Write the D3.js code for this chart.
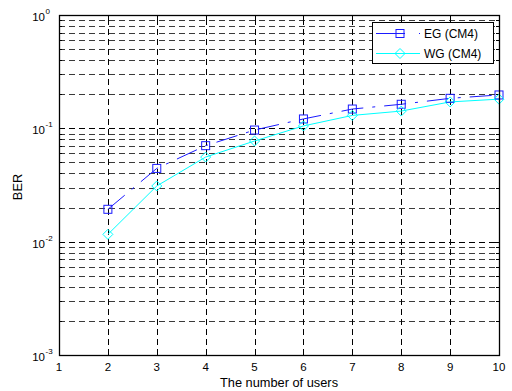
<!DOCTYPE html>
<html>
<head>
<meta charset="utf-8">
<script src="https://cdn.jsdelivr.net/npm/d3@7/dist/d3.min.js"></script>
<style>
  html, body { margin: 0; padding: 0; background: #fff; }
  svg { display: block; font-family: "Liberation Sans", Arial, sans-serif; }
</style>
</head>
<body>
<svg id="chart" width="512" height="391"></svg>
<script>
// Number of users on the x axis
const users = [2, 3, 4, 5, 6, 7, 8, 9, 10];
// Bit error rate for each grouping scheme
const berEG = [0.0193, 0.0443, 0.0703, 0.0966, 0.121, 0.148, 0.163, 0.184, 0.197];
const berWG = [0.0116, 0.031, 0.0558, 0.0773, 0.105, 0.130, 0.142, 0.171, 0.181];
const seriesNames = ["EG (CM4)", "WG (CM4)"];
const xTicks = [1, 2, 3, 4, 5, 6, 7, 8, 9, 10];
const yDecades = [-3, -2, -1, 0];

const svg = d3.select("#chart");
const plotL = 59, plotR = 499, plotT = 15, plotB = 355;

const x = d3.scaleLinear().domain([1, 10]).range([plotL, plotR]);
const y = d3.scaleLog().domain([1e-3, 1]).range([plotB, plotT]);

// minor and major values on the log axis
const yMinor = [];
yDecades.slice(0, -1).forEach(e => {
  for (let k = 2; k <= 9; k++) yMinor.push(k * Math.pow(10, e));
});
const yMajor = yDecades.map(e => Math.pow(10, e));

const grid = svg.append("g").attr("stroke-width", 1)
  .attr("stroke-dasharray", "6,4").attr("fill", "none");

// horizontal grid lines: minor ones a touch lighter than the decades
grid.selectAll("line.h").data(yMajor.concat(yMinor).filter(v => v > 1e-3 && v < 1)).join("line")
  .attr("class", "h")
  .attr("stroke", d => yMajor.includes(d) ? "#000" : "#3a3a3a")
  .attr("x1", plotL).attr("x2", plotR)
  .attr("y1", d => Math.round(y(d)) + 0.5).attr("y2", d => Math.round(y(d)) + 0.5);

// vertical grid lines
grid.selectAll("line.v").data(xTicks.filter(v => v > 1 && v < 10)).join("line")
  .attr("class", "v").attr("stroke", "#000")
  .attr("y1", plotB).attr("y2", plotT)
  .attr("x1", d => Math.round(x(d)) + 0.5).attr("x2", d => Math.round(x(d)) + 0.5);

// tick marks inside the box on all four sides
const ticks = svg.append("g").attr("stroke", "#000").attr("stroke-width", 1);
xTicks.forEach(v => {
  const px = Math.round(x(v)) + 0.5;
  ticks.append("line").attr("x1", px).attr("x2", px).attr("y1", plotB).attr("y2", plotB - 5);
  ticks.append("line").attr("x1", px).attr("x2", px).attr("y1", plotT).attr("y2", plotT + 5);
});
yMajor.forEach(v => {
  const py = Math.round(y(v)) + 0.5;
  ticks.append("line").attr("x1", plotL).attr("x2", plotL + 5).attr("y1", py).attr("y2", py);
  ticks.append("line").attr("x1", plotR).attr("x2", plotR - 5).attr("y1", py).attr("y2", py);
});
yMinor.forEach(v => {
  const py = Math.round(y(v)) + 0.5;
  ticks.append("line").attr("x1", plotL).attr("x2", plotL + 3).attr("y1", py).attr("y2", py);
  ticks.append("line").attr("x1", plotR).attr("x2", plotR - 3).attr("y1", py).attr("y2", py);
});

// data lines and markers
const line = d3.line().x((d, i) => x(users[i])).y(d => y(d));

svg.append("path").datum(berWG).attr("d", line)
  .attr("fill", "none").attr("stroke", "#00ffff").attr("stroke-width", 1);
svg.append("path").datum(berEG).attr("d", line)
  .attr("fill", "none").attr("stroke", "#1a1aff").attr("stroke-width", 1)
  .attr("stroke-dasharray", "22,9,3,9");

const sq = 8, dm = 5;
svg.append("g").selectAll("rect").data(berEG).join("rect")
  .attr("x", (d, i) => x(users[i]) - sq / 2).attr("y", d => y(d) - sq / 2)
  .attr("width", sq).attr("height", sq)
  .attr("fill", "none").attr("stroke", "#1a1aff").attr("stroke-width", 1);
const diamond = (cx, cy) => `M${cx},${cy - dm}L${cx + dm},${cy}L${cx},${cy + dm}L${cx - dm},${cy}Z`;
svg.append("g").selectAll("path").data(berWG).join("path")
  .attr("d", (d, i) => diamond(x(users[i]), y(d)))
  .attr("fill", "none").attr("stroke", "#00ffff").attr("stroke-width", 1);

// axes box
svg.append("rect").attr("x", plotL + 0.5).attr("y", plotT + 0.5)
  .attr("width", plotR - plotL).attr("height", plotB - plotT)
  .attr("fill", "none").attr("stroke", "#000").attr("stroke-width", 1.3);

// x tick labels
svg.append("g").selectAll("text").data(xTicks).join("text")
  .attr("x", d => x(d)).attr("y", plotB + 16)
  .attr("text-anchor", "middle").attr("font-size", 11.5).attr("fill", "#000")
  .text(d => d);

// y tick labels as 10 with superscript exponent
const yl = svg.append("g").attr("font-size", 11.5).attr("fill", "#000");
yDecades.forEach(e => {
  const py = y(Math.pow(10, e));
  yl.append("text").attr("x", 45).attr("y", py + 6).attr("text-anchor", "end").text("10");
  yl.append("text").attr("x", 45.5).attr("y", py - 1).attr("font-size", 8).text(e);
});

// axis titles
svg.append("text").attr("x", (plotL + plotR) / 2).attr("y", 387)
  .attr("text-anchor", "middle").attr("font-size", 12.8).attr("fill", "#000")
  .text("The number of users");
svg.append("text").attr("transform", `translate(22,187) rotate(-90)`)
  .attr("text-anchor", "middle").attr("font-size", 12.8).attr("fill", "#000")
  .text("BER");

// legend
const lg = svg.append("g");
lg.append("rect").attr("x", 372.5).attr("y", 22.5).attr("width", 121).attr("height", 41)
  .attr("fill", "#fff").attr("stroke", "#000").attr("stroke-width", 1);
const rows = [
  { name: seriesNames[0], color: "#1a1aff", dash: "29,14,2,20", marker: "square", yy: 33 },
  { name: seriesNames[1], color: "#00ffff", dash: null, marker: "diamond", yy: 53 }
];
rows.forEach(r => {
  lg.append("line").attr("x1", 376).attr("x2", 420).attr("y1", r.yy + 0.5).attr("y2", r.yy + 0.5)
    .attr("stroke", r.color).attr("stroke-width", 1).attr("stroke-dasharray", r.dash);
  if (r.marker === "square") {
    lg.append("rect").attr("x", 400 - sq / 2).attr("y", r.yy - sq / 2 + 0.5).attr("width", sq).attr("height", sq)
      .attr("fill", "none").attr("stroke", r.color);
  } else {
    lg.append("path").attr("d", diamond(400, r.yy + 0.5)).attr("fill", "none").attr("stroke", r.color);
  }
  lg.append("text").attr("x", 424).attr("y", r.yy + 4.5).attr("font-size", 12).attr("fill", "#000").text(r.name);
});
</script>
</body>
</html>
